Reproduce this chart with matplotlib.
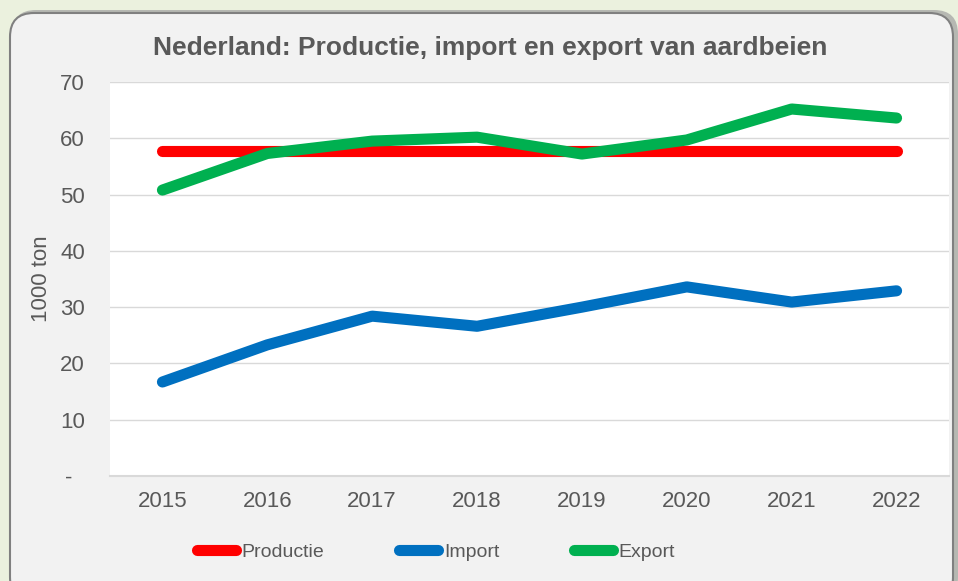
import matplotlib.pyplot as plt
from matplotlib.patches import FancyBboxPatch

plt.rcParams['font.family'] = ['Liberation Sans', 'DejaVu Sans']

# data (1000 ton)
years = [2015, 2016, 2017, 2018, 2019, 2020, 2021, 2022]
productie = [57.7, 57.7, 57.7, 57.7, 57.7, 57.7, 57.7, 57.7]
importv = [16.7, 23.3, 28.4, 26.6, 30.0, 33.6, 30.9, 32.9]
exportv = [50.8, 57.3, 59.5, 60.2, 57.2, 59.7, 65.2, 63.6]
yticks = [0, 10, 20, 30, 40, 50, 60, 70]
ylabels = ['-  ', '10', '20', '30', '40', '50', '60', '70']

W, H = 958, 581
fig = plt.figure(figsize=(W / 100, H / 100), dpi=100)
fig.patch.set_facecolor('#ebf1de')

# shadow + rounded panel
shadow = FancyBboxPatch((12 / W, -20 / H), 946 / W, (H - 10 + 20) / H,
                        boxstyle='round,pad=0,rounding_size=0.025',
                        transform=fig.transFigure, facecolor='#a0a0a0',
                        edgecolor='none', alpha=0.7, zorder=0, mutation_aspect=W / H)
fig.patches.append(shadow)
panel = FancyBboxPatch((10 / W, -20 / H), 943 / W, (H - 13 + 20) / H,
                       boxstyle='round,pad=0,rounding_size=0.025',
                       transform=fig.transFigure, facecolor='#f2f2f2',
                       edgecolor='#808080', linewidth=1.5, zorder=1, mutation_aspect=W / H)
fig.patches.append(panel)

ax = fig.add_axes([110 / W, (H - 476) / H, (949 - 110) / W, (476 - 82) / H])
ax.set_zorder(2)
ax.set_facecolor('white')

x = range(len(years))
lw = 8
ax.plot(x, productie, color='#ff0000', lw=lw, solid_capstyle='round', label='Productie', zorder=3)
ax.plot(x, importv, color='#0070c0', lw=lw, solid_capstyle='round', label='Import', zorder=3)
ax.plot(x, exportv, color='#00b050', lw=lw, solid_capstyle='round', label='Export', zorder=4)

ax.set_xlim(-0.5, len(years) - 0.5)
ax.set_ylim(0, 70)
ax.set_yticks(yticks)
ax.set_yticklabels(ylabels)
ax.set_xticks(list(x))
ax.set_xticklabels([str(y) for y in years])
ax.grid(axis='y', color='#d9d9d9', lw=1)
ax.set_axisbelow(True)
for s in ['top', 'right', 'left']:
    ax.spines[s].set_visible(False)
ax.spines['bottom'].set_color('#d9d9d9')
ax.spines['bottom'].set_linewidth(1.5)
ax.tick_params(length=0, labelsize=16, colors='#595959', pad=11)
ax.tick_params(axis='y', pad=18)
ax.set_ylabel('1000 ton', fontsize=16, color='#595959', labelpad=6)

fig.text(490 / W, 1 - 48 / H, 'Nederland: Productie, import en export van aardbeien',
         ha='center', va='center', fontsize=19, fontweight='bold', color='#595959')

leg = fig.legend(loc='center', bbox_to_anchor=(436 / W, 1 - 552 / H), ncol=3,
                 frameon=False, fontsize=14, handlelength=2.0, handletextpad=0.3,
                 columnspacing=3.85, labelcolor='#595959')
for h in leg.get_lines():
    h.set_solid_capstyle('round')

fig.savefig('out.png', dpi=100, facecolor=fig.get_facecolor())
